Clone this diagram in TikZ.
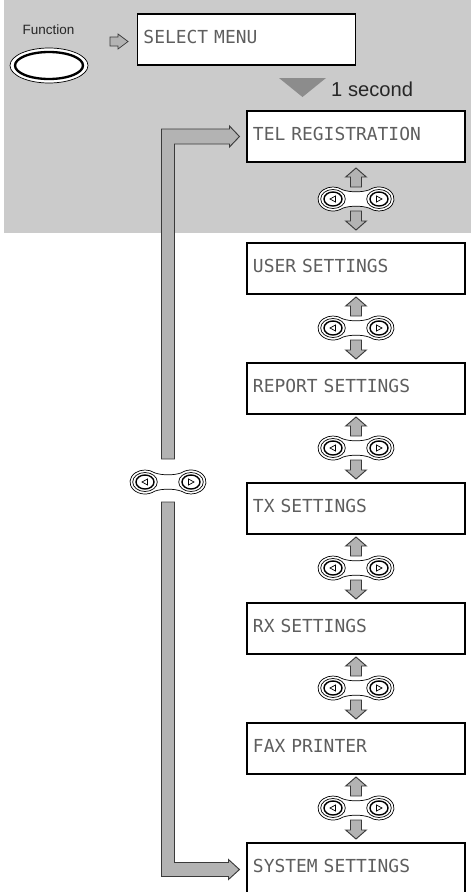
\documentclass[tikz,border=0pt]{standalone}
\usepackage{fontspec}
\setmainfont{Liberation Sans}
\setmonofont{DejaVu Sans Mono}
\usetikzlibrary{calc}

\definecolor{panelgray}{HTML}{CBCBCB}
\definecolor{bargray}{HTML}{B3B3B3}
\definecolor{markgray}{HTML}{8C8C8C}
\definecolor{lcdtext}{HTML}{5E5E5E}
\definecolor{edgegray}{HTML}{3A3A3A}

\tikzset{
  menubox/.style={draw, line width=0.9pt, fill=white, text width=6.18cm, inner xsep=0.18cm, inner ysep=0pt,
    minimum height=1.53cm, text height=0.39cm, text depth=0.18cm, align=left, text=lcdtext,
    font=\ttfamily\fontsize{15.3}{16}\selectfont},
  blockarrow/.style={draw=edgegray, fill=bargray, line width=0.8pt, line join=miter},
  navkey/.pic={
    \draw[line width=0.6pt, fill=white] (-13.36,9.19) arc[start angle=50, end angle=310, x radius=15, y radius=12]
      .. controls (-6,-6.5) and (6,-6.5) .. (13.36,-9.19)
      arc[start angle=230, end angle=490, x radius=15, y radius=12]
      .. controls (6,6.5) and (-6,6.5) .. cycle;
    \draw[line width=0.6pt] (-23,0) ellipse [x radius=12.3, y radius=9.5] (23,0) ellipse [x radius=12.3, y radius=9.5];
    \draw[line width=1.2pt] (-23,0) ellipse [x radius=9, y radius=7] (23,0) ellipse [x radius=9, y radius=7];
    \draw[line width=0.6pt] (-26,0) -- (-20.5,-3) -- (-20.5,3) -- cycle;
    \draw[line width=0.6pt] (26,0) -- (20.5,-3) -- (20.5,3) -- cycle;
  },
  stepkey/.pic={
    \draw[blockarrow] (-5.5,-12) -- (-5.5,-22) -- (-10.3,-22) -- (0,-31) -- (10.3,-22) -- (5.5,-22) -- (5.5,-12) -- cycle;
    \draw[blockarrow] (-5.5,12) -- (-5.5,22) -- (-10.3,22) -- (0,31) -- (10.3,22) -- (5.5,22) -- (5.5,12) -- cycle;
    \pic {navkey};
  }
}

\begin{document}
\begin{tikzpicture}[x=0.03cm, y=-0.03cm]
\useasboundingbox (0,0) rectangle (471,892);
\clip (0,0) rectangle (471,892);
\fill[panelgray] (4,0) rectangle (471,233);

% function key and first screen
\coordinate (fnkey) at (49,65.5);
\node[font=\fontsize{11.5}{12}\selectfont, text=black!85] (fnlabel) at (48.5,30) {Function};
\draw[fill=white, line width=0.6pt] (fnkey) ellipse [x radius=39, y radius=17.5];
\draw[line width=2pt] (fnkey) ellipse [x radius=34, y radius=13.5];
\draw[blockarrow, line width=0.6pt] (110,37) -- (118,37) -- (118,34) -- (128,41.5) -- (118,49) -- (118,46) -- (110,46) -- cycle;
\node[menubox] (select) at (246.5,39.5) {SELECT MENU};
\fill[markgray] (279,78) -- (326,78) -- (302.5,97) -- cycle;
\node[anchor=west, inner sep=0pt, text=black!85, font=\fontsize{17.2}{18}\selectfont] (delay) at (331,89) {1 second};

% menu screens
\node[menubox] (tel) at (356,136.5) {TEL REGISTRATION};
\node[menubox] (user) at (356,268.5) {USER SETTINGS};
\node[menubox] (report) at (356,388.5) {REPORT SETTINGS};
\node[menubox] (tx) at (356,508.5) {TX SETTINGS};
\node[menubox] (rx) at (356,628.5) {RX SETTINGS};
\node[menubox] (fax) at (356,748.5) {FAX PRINTER};
\node[menubox] (system) at (356,868.5) {SYSTEM SETTINGS};

% left/right keys between screens
\pic at (356,199) {stepkey};
\pic at (356,328) {stepkey};
\pic at (356,448) {stepkey};
\pic at (356,568) {stepkey};
\pic at (356,688) {stepkey};
\pic at (356,808) {stepkey};

% jump to first and last screen
\coordinate (sidekey) at (168,482);
\draw[blockarrow] ($(sidekey)+(-6.5,-23)$) |- ($(tel.west)+(-17,-7.5)$) -- ++(0,-3) -- ($(tel.west)+(-7,0)$)
  -- ++(-10,10.5) -- ++(0,-3) -| ($(sidekey)+(6.5,-23)$) -- cycle;
\draw[blockarrow] ($(sidekey)+(-6.5,20)$) |- ($(system.west)+(-18,8)$) -- ++(0,3) -- ($(system.west)+(-7,1)$)
  -- ++(-11,-10) -- ++(0,3) -| ($(sidekey)+(6.5,20)$) -- cycle;
\pic at (sidekey) {navkey};
\end{tikzpicture}
\end{document}
